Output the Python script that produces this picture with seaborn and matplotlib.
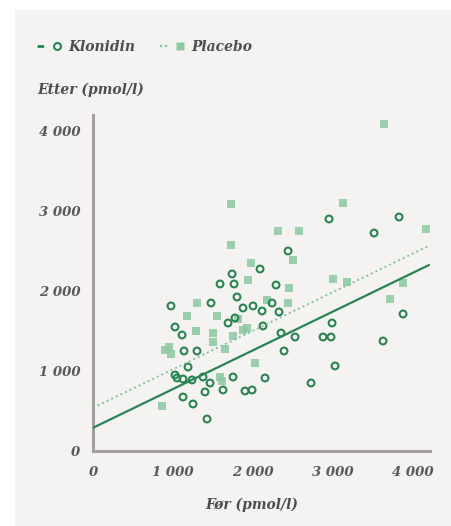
import matplotlib
matplotlib.use("Agg")
import matplotlib.pyplot as plt
from matplotlib.lines import Line2D
from matplotlib.patches import Rectangle
from matplotlib.ticker import FuncFormatter
from matplotlib.legend_handler import HandlerTuple
import seaborn as sns
import pandas as pd

# Klonidin group: before (x) and after (y), pmol/l
klonidin_for = [2950, 3825, 3513, 2438, 2088, 1738, 1588, 1763, 2288, 1800,
                975, 1475, 2238, 1875, 2000, 2113, 2325, 1688, 1775, 2125,
                1025, 1113, 3875, 2988, 2875, 2975, 2350, 2525, 3625, 2388,
                3025, 2725, 2150, 1900, 1988, 1138, 1300, 1188, 1050, 1125,
                1238, 1375, 1463, 1750, 1625, 1125, 1250, 1425, 1400, 1025]
klonidin_etter = [2900, 2925, 2725, 2500, 2275, 2213, 2088, 2088, 2075, 1925,
                  1813, 1850, 1850, 1788, 1813, 1750, 1738, 1600, 1663, 1563,
                  1550, 1450, 1713, 1600, 1425, 1425, 1475, 1425, 1375, 1250,
                  1063, 850, 913, 750, 763, 1250, 1250, 1050, 913, 900,
                  888, 925, 850, 925, 763, 675, 588, 400, 738, 950]

# Placebo group: before (x) and after (y), pmol/l
placebo_for = [3638, 1725, 3125, 4163, 2313, 2575, 1725, 2500, 1975, 3000,
               3175, 3875, 2450, 3713, 2438, 2175, 1300, 1175, 1550, 1925,
               1288, 1500, 1500, 1750, 950, 975, 900, 1650, 2025, 1588,
               863, 1938, 1875, 1813, 1613]
placebo_etter = [4088, 3088, 3100, 2775, 2750, 2750, 2575, 2388, 2350, 2150,
                 2113, 2100, 2038, 1900, 1850, 1888, 1850, 1688, 1688, 1538,
                 1500, 1475, 1363, 1438, 1300, 1213, 1263, 1275, 1100, 925,
                 563, 2138, 1513, 1650, 875]

# Fitted regression lines, evaluated at the ends of the x range
fit_for = [0, 4200]
klonidin_fit = [290, 2325]
placebo_fit = [540, 2565]

x_ticks = [0, 1000, 2000, 3000, 4000]
y_ticks = [0, 1000, 2000, 3000, 4000]

group_names = ["Klonidin", "Placebo"]
x_label = "Før (pmol/l)"
y_label = "Etter (pmol/l)"

dark_green = "#2a8452"
light_green = "#8cc8a2"
dotted_green = "#86c29c"
axis_gray = "#a5a0a0"
text_gray = "#4e4e4e"

sns.set_theme(style="white")
plt.rcParams["font.family"] = ["DejaVu Serif"]

fig = plt.figure(figsize=(4.52, 5.26), dpi=100)
fig.patch.set_facecolor("white")
fig.patches.append(Rectangle((15 / 452, 0.0), 1 - 15 / 452, 1 - 10 / 526,
                             transform=fig.transFigure, facecolor="#f4f3f1",
                             edgecolor="none", zorder=-10))

ax = fig.add_axes([93 / 452, 75 / 526, 337 / 452, 336 / 526])
ax.set_facecolor("none")

kl = pd.DataFrame({"for": klonidin_for, "etter": klonidin_etter})
pl = pd.DataFrame({"for": placebo_for, "etter": placebo_etter})

sns.scatterplot(data=pl, x="for", y="etter", marker="s", s=34,
                color=light_green, edgecolor="none", alpha=0.85, ax=ax, zorder=2)
sns.scatterplot(data=kl, x="for", y="etter", marker="o", s=24,
                facecolor="none", edgecolor=dark_green, linewidth=1.5, ax=ax, zorder=3)

fits = pd.DataFrame({"for": fit_for, "kl": klonidin_fit, "pl": placebo_fit})
ax.plot(fits["for"], fits["pl"], color=dotted_green, lw=1.3,
        linestyle=(0, (1.2, 1.6)), zorder=4)
ax.plot(fits["for"], fits["kl"], color=dark_green, lw=1.6, zorder=4)

ax.set_xlim(0, 4212)
ax.set_ylim(0, 4200)
ax.set_xticks(x_ticks)
ax.set_yticks(y_ticks)
fmt = FuncFormatter(lambda v, p: f"{int(v):,}".replace(",", " "))
ax.xaxis.set_major_formatter(fmt)
ax.yaxis.set_major_formatter(fmt)
ax.tick_params(axis="both", length=0, labelsize=9.5, colors="#5a5a5a")
ax.tick_params(axis="y", pad=9)
ax.tick_params(axis="x", pad=11)
for lab in ax.get_xticklabels() + ax.get_yticklabels():
    lab.set_fontstyle("italic")
    lab.set_fontweight("bold")
ax.set_xlabel("")
ax.set_ylabel("")

for side in ["top", "right"]:
    ax.spines[side].set_visible(False)
for side in ["left", "bottom"]:
    ax.spines[side].set_color(axis_gray)
    ax.spines[side].set_linewidth(2.2)
ax.grid(False)

fig.text(37 / 452, 1 - 90 / 526, y_label, ha="left", va="center",
         fontsize=10, fontstyle="italic", fontweight="bold", color=text_gray)
fig.text(252 / 452, 1 - 505 / 526, x_label, ha="center", va="center",
         fontsize=10, fontstyle="italic", fontweight="bold", color=text_gray)

# Legend keys: short line segment on the left, then a gap and the marker
kl_line = Line2D([], [], color=dark_green, lw=2.0, linestyle=(0, (2.4, 10)))
kl_mark = Line2D([], [], linestyle="none", marker="o", markersize=5,
                 markerfacecolor="none", markeredgecolor=dark_green, markeredgewidth=1.5)
pl_line = Line2D([], [], color=dotted_green, lw=1.6, linestyle=(0, (1, 1.2, 1, 1.2, 1, 10)))
pl_mark = Line2D([], [], linestyle="none", marker="s", markersize=5.5,
                 markerfacecolor=light_green, markeredgecolor="none")
leg = fig.legend([(kl_line, kl_mark), (pl_line, pl_mark)], group_names,
                 handler_map={tuple: HandlerTuple(ndivide=None, pad=0.5)},
                 loc="center left", bbox_to_anchor=(37 / 452, 1 - 47 / 526),
                 ncol=2, frameon=False, handlelength=1.75, handletextpad=0.5,
                 columnspacing=1.8, borderaxespad=0, borderpad=0,
                 prop={"family": "DejaVu Serif", "style": "italic",
                       "weight": "bold", "size": 10})
for t in leg.get_texts():
    t.set_color(text_gray)

fig.savefig("out.png", dpi=100)
